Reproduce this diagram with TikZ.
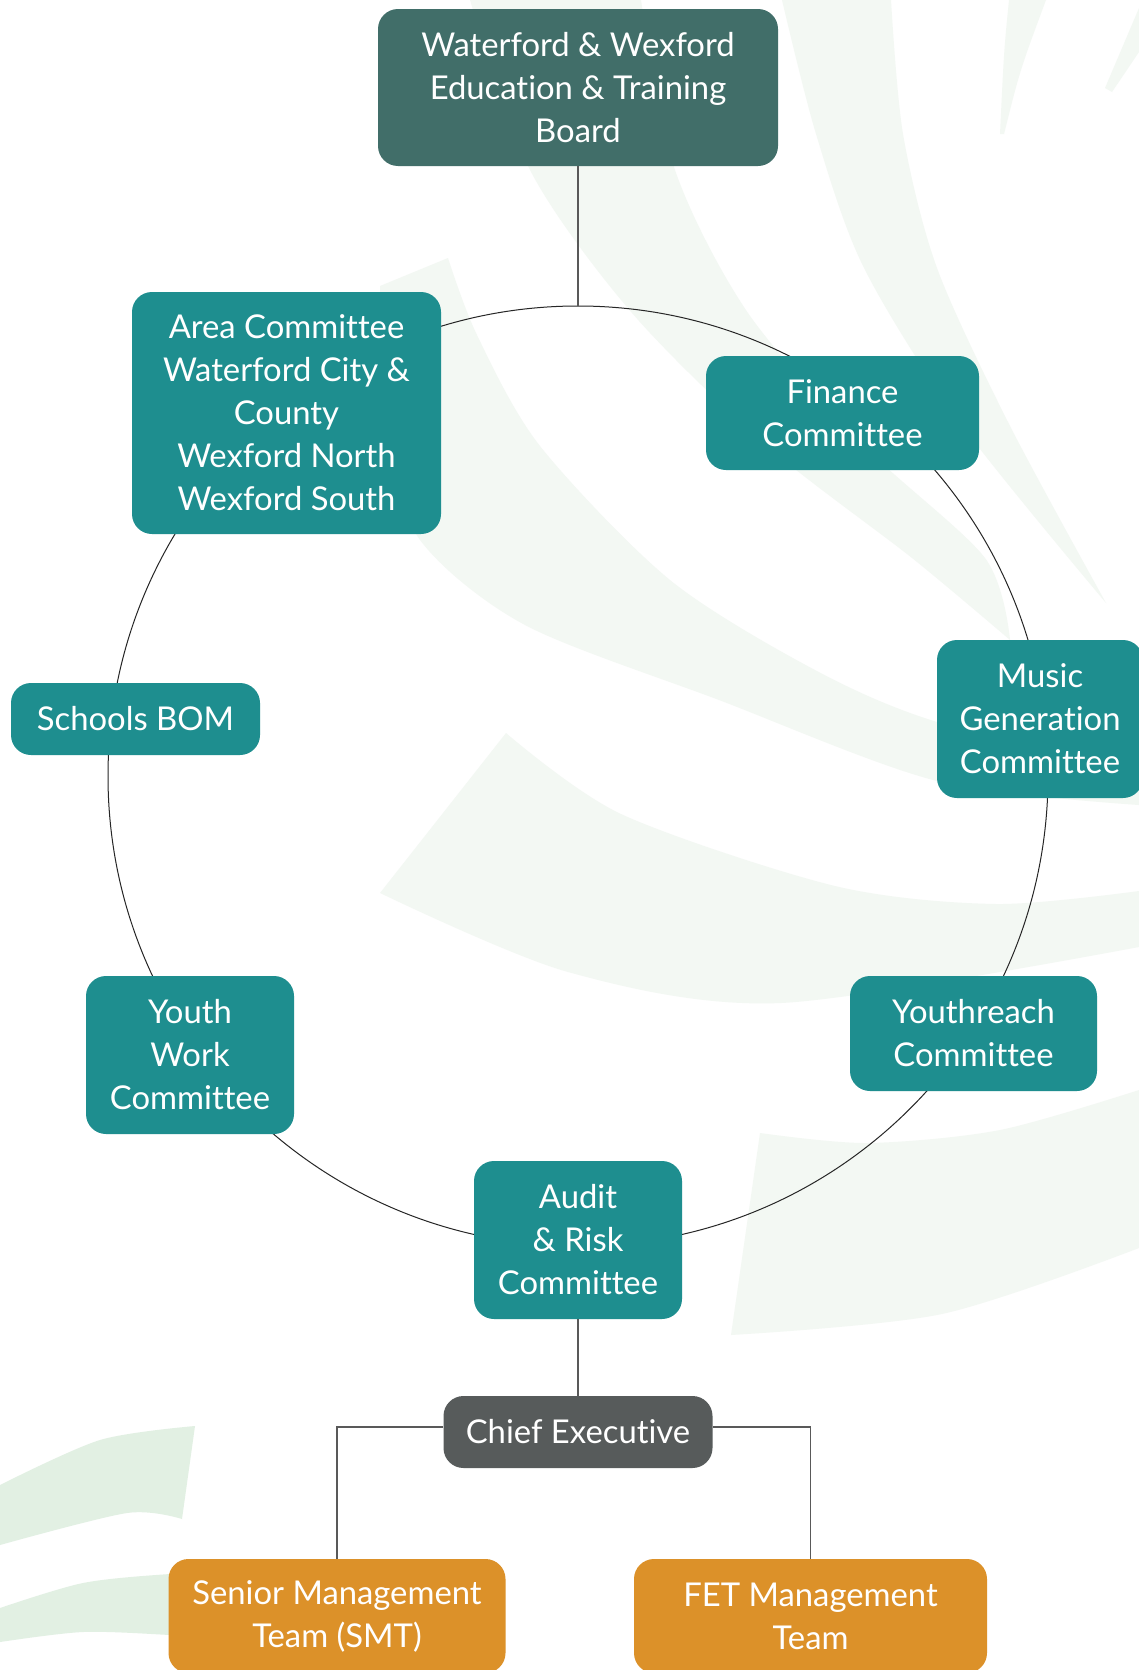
\documentclass[tikz,border=0pt]{standalone}
\usepackage{fontspec}
\setmainfont{Lato}[Ligatures=NoCommon]
\usetikzlibrary{positioning}
\definecolor{boardgreen}{HTML}{416E69}
\definecolor{cteal}{HTML}{1E8E8F}
\definecolor{ceogrey}{HTML}{575B5B}
\definecolor{mgmtorange}{HTML}{DC9129}
\definecolor{leaf}{HTML}{F3F8F3}
\definecolor{leafdark}{HTML}{E2F0E3}

\begin{document}
\begin{tikzpicture}[x=0.5pt, y=-0.5pt,
  unit/.style={rectangle, fill=#1, text=white, rounded corners=10pt, align=center, inner sep=0pt, font=\fontsize{16.4}{21.5}\selectfont},
  link/.style={draw=black!65, line width=0.75pt}
]
  \fill[white] (0,0) rectangle (1139,1670);
  \useasboundingbox (0,0) rectangle (1139,1670);

  % pale leaf shapes behind the chart
  \fill[leaf] plot[smooth] coordinates {(782,0) (816,134) (864,268) (961,424) (1106,603)}
    -- plot[smooth] coordinates {(1106,603) (1009,424) (937,268) (903,134) (891,0)} -- cycle;
  \fill[leaf] plot[smooth] coordinates {(470,0) (530,170) (632,313) (767,446) (912,558) (1010,640)}
    -- plot[smooth] coordinates {(1010,640) (985,558) (864,446) (748,313) (675,170) (641,0)} -- cycle;
  \fill[leaf] (380,286) -- plot[smooth] coordinates {(448,258) (477,335) (540,446) (670,580) (815,670) (937,722) (1139,770)}
    -- plot[smooth] coordinates {(1139,805) (937,781) (719,700) (525,625) (420,540) (380,430)} -- cycle;
  \fill[leaf] plot[smooth] coordinates {(506,733) (621,814) (835,886) (996,904) (1139,891)}
    -- plot[smooth] coordinates {(1139,947) (781,1003) (568,972) (380,893)} -- cycle;
  \fill[leaf] plot[smooth] coordinates {(760,1133) (867,1143) (1000,1130) (1139,1090)}
    -- plot[smooth] coordinates {(1139,1248) (942,1314) (731,1335)} -- cycle;
  \fill[leaf] (1009,0) .. controls (1004,50) .. (1000,134) -- (1004,134) .. controls (1020,70) .. (1046,0) -- cycle;
  \fill[leaf] (1139,8) -- (1105,88) -- (1112,92) -- (1139,52) -- cycle;
  \fill[leafdark] plot[smooth] coordinates {(0,1485) (100,1440) (195,1426)}
    -- plot[smooth] coordinates {(182,1519) (127,1513) (0,1545)} -- cycle;
  \fill[leafdark] plot[smooth] coordinates {(0,1608) (83,1583) (170,1574) (240,1572)}
    -- plot[smooth] coordinates {(240,1640) (170,1635) (83,1632) (0,1642)} -- cycle;

  % committee ring
  \coordinate (ring) at (578,776);
  \coordinate (ringtop) at (578,306);
  \draw[black!85, line width=0.5pt] (ring) circle (235pt);

  \node[unit=boardgreen, minimum width=200pt, minimum height=78.5pt] (board) at (578,87.5) {Waterford \& Wexford\\Education \& Training\\Board};
  \node[unit=cteal, minimum width=154.5pt, minimum height=121pt] (area) at (286.5,413) {Area Committee\\Waterford City \&\\County\\Wexford North\\Wexford South};
  \node[unit=cteal, minimum width=136.5pt, minimum height=57pt] (finance) at (842.5,413) {Finance\\Committee};
  \node[unit=cteal, minimum width=124.5pt, minimum height=36pt] (schools) at (135.5,719) {Schools BOM};
  \node[unit=cteal, minimum width=103pt, minimum height=79pt] (music) at (1040,719) {Music\\Generation\\Committee};
  \node[unit=cteal, minimum width=104pt, minimum height=79pt] (youthwork) at (190,1055) {Youth\\Work\\Committee};
  \node[unit=cteal, minimum width=123.5pt, minimum height=57.5pt] (youthreach) at (973.5,1033.5) {Youthreach\\Committee};
  \node[unit=cteal, minimum width=104pt, minimum height=79pt] (audit) at (578,1240) {Audit\\\& Risk\\Committee};
  \node[unit=ceogrey, minimum width=134.5pt, minimum height=36pt] (ceo) at (578,1432) {Chief Executive};
  \node[unit=mgmtorange, minimum width=168.5pt, minimum height=57pt] (smt) at (337,1616) {Senior Management\\Team (SMT)};
  \node[unit=mgmtorange, minimum width=176.5pt, minimum height=57pt] (fet) at (810.5,1616) {FET Management\\Team};

  \draw[link] (board) -- (ringtop);
  \draw[link] (audit) -- (ceo);
  \draw[link] ([yshift=2.5pt]ceo.west) -| (smt.north);
  \draw[link] ([yshift=2.5pt]ceo.east) -| (fet.north);
\end{tikzpicture}
\end{document}
